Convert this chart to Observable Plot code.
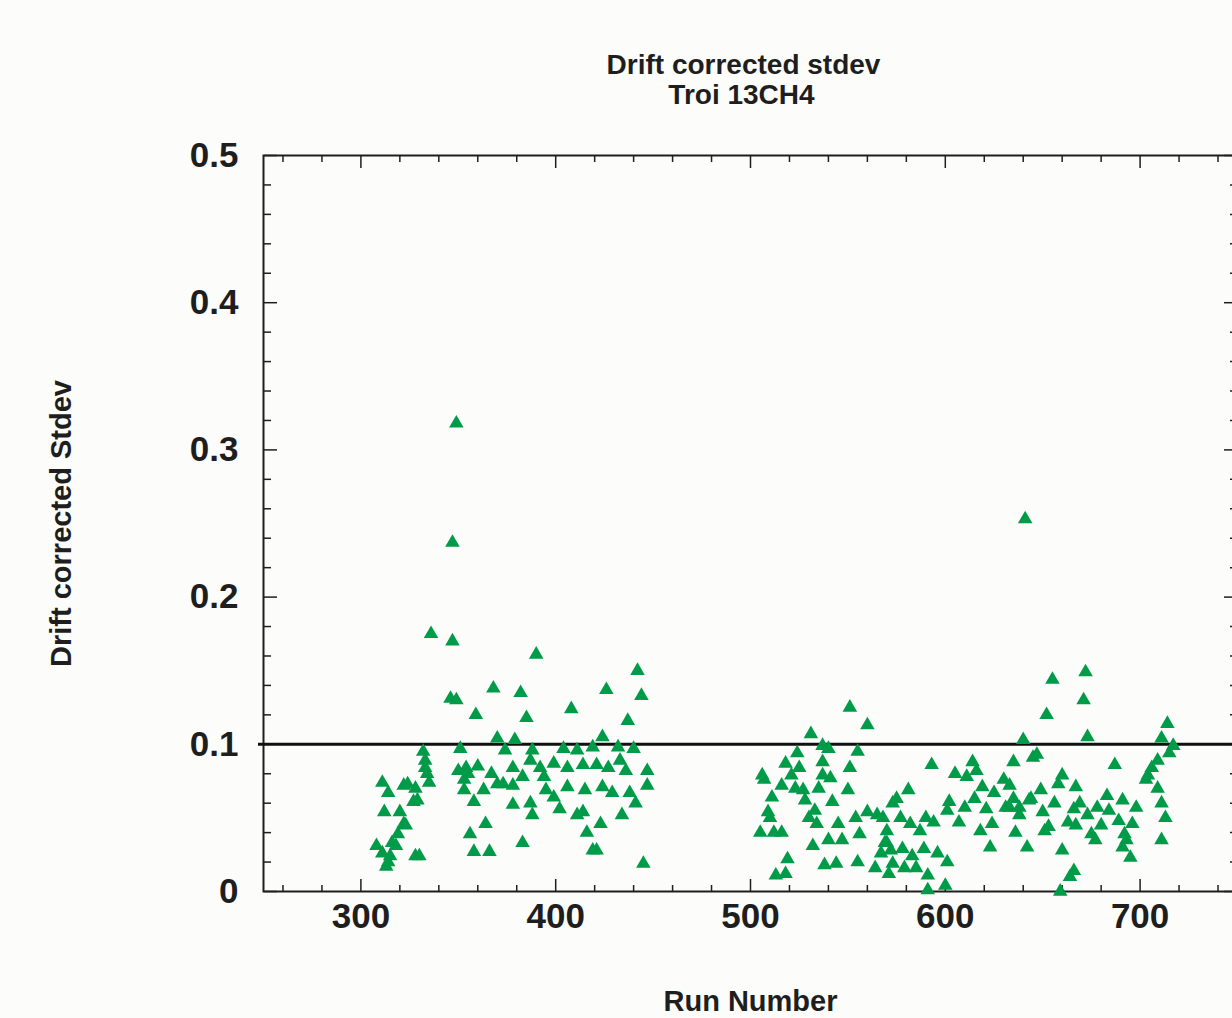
<!DOCTYPE html>
<html><head><meta charset="utf-8">
<script src="https://cdn.jsdelivr.net/npm/d3@7"></script>
<script src="https://cdn.jsdelivr.net/npm/@observablehq/plot@0.6"></script>
<style>
html,body{margin:0;padding:0;background:#fcfcfa;overflow:hidden;width:1232px;height:1018px}
#chart svg{display:block}
</style></head><body><div id="chart"></div>
<script>
const titleLines = ["Drift corrected stdev", "Troi 13CH4"];
const xLabel = "Run Number";
const yLabel = "Drift corrected Stdev";
const xTicks = [300, 400, 500, 600, 700];
const xMinorTicks = [260, 280, 320, 340, 360, 380, 420, 440, 460, 480, 520, 540, 560, 580, 620, 640, 660, 680, 720, 740];
const yTicks = [0, 0.1, 0.2, 0.3, 0.4, 0.5];
const yMinorTicks = [0.02, 0.04, 0.06, 0.08, 0.12, 0.14, 0.16, 0.18, 0.22, 0.24, 0.26, 0.28, 0.32, 0.34, 0.36, 0.38, 0.42, 0.44, 0.46, 0.48];
const threshold = [0.1];

const runs = [
308,311,312,311,313,314,315,314,316,318,319,320,322,323,322,324,327,328,329,328,330,332,333,333,334,335,
336,347,347,346,349,351,350,354,355,360,353,353,358,356,358,366,364,363,367,370,359,368,370,349,
390,382,385,408,426,442,444,437,374,379,388,404,411,419,424,432,440,
378,383,373,378,387,392,399,394,406,414,421,427,433,436,447,
395,399,402,406,415,424,429,438,447,441,434,387,378,388,411,414,423,416,383,419,421,445,
551,560,531,537,540,555,524,518,525,537,551,506,507,521,537,541,516,523,527,535,550,511,528,542,509,533,510,530,534,545,
505,512,516,532,540,547,556,554,560,565,573,519,513,518,538,544,555,564,567,570,
640,593,614,635,645,605,611,616,630,581,575,619,625,602,615,635,643,601,610,621,631,638,568,577,582,590,594,607,618,624,636,570,587,
569,572,578,589,583,596,601,623,642,573,579,585,591,571,591,600,
672,655,671,652,714,673,711,717,715,647,709,687,706,704,660,703,658,667,649,633,709,644,656,669,683,691,633,638,650,666,678,684,698,711,
673,689,696,713,663,653,667,680,651,675,692,677,693,711,660,691,695,666,664,659,641
];
const stdevs = [
0.031,0.026,0.054,0.074,0.017,0.067,0.024,0.020,0.033,0.031,0.039,0.054,0.046,0.045,0.072,0.073,0.061,0.070,0.062,0.024,0.024,0.095,0.089,0.084,0.080,0.074,
0.175,0.170,0.237,0.131,0.130,0.097,0.082,0.084,0.080,0.085,0.076,0.069,0.061,0.039,0.027,0.027,0.046,0.069,0.080,0.073,0.120,0.138,0.104,0.318,
0.161,0.135,0.118,0.124,0.137,0.150,0.133,0.116,0.096,0.103,0.096,0.097,0.096,0.098,0.105,0.098,0.097,
0.084,0.078,0.073,0.072,0.089,0.084,0.087,0.078,0.084,0.086,0.086,0.084,0.089,0.082,0.082,
0.069,0.064,0.056,0.071,0.069,0.071,0.067,0.067,0.072,0.060,0.052,0.060,0.059,0.052,0.052,0.054,0.046,0.040,0.033,0.028,0.028,0.019,
0.125,0.113,0.107,0.099,0.097,0.095,0.094,0.087,0.084,0.088,0.084,0.079,0.076,0.079,0.079,0.077,0.072,0.070,0.069,0.070,0.069,0.064,0.062,0.061,0.054,0.055,0.050,0.050,0.046,0.046,
0.040,0.040,0.040,0.031,0.035,0.035,0.039,0.050,0.054,0.052,0.060,0.022,0.011,0.012,0.018,0.019,0.020,0.016,0.026,0.033,
0.103,0.086,0.088,0.088,0.091,0.080,0.078,0.082,0.076,0.069,0.063,0.071,0.067,0.061,0.063,0.063,0.062,0.055,0.057,0.056,0.057,0.052,0.050,0.050,0.046,0.050,0.047,0.047,0.041,0.046,0.040,0.041,0.041,
0.033,0.028,0.029,0.029,0.024,0.026,0.020,0.030,0.030,0.019,0.016,0.016,0.011,0.012,0.001,0.004,
0.149,0.144,0.130,0.120,0.114,0.105,0.104,0.099,0.094,0.093,0.089,0.086,0.084,0.079,0.079,0.076,0.073,0.071,0.069,0.072,0.070,0.063,0.060,0.060,0.065,0.062,0.057,0.057,0.054,0.056,0.057,0.055,0.057,0.060,
0.052,0.048,0.046,0.050,0.047,0.044,0.045,0.045,0.041,0.039,0.039,0.035,0.035,0.035,0.028,0.030,0.023,0.014,0.010,0.000,0.253
];

const points = runs.map((r, i) => ({run: r, sd: stdevs[i]}));
const ink = "#1e1e1e";
const green = "#009b48";
const font = "'Liberation Sans', Arial, Helvetica, sans-serif";

const chart = Plot.plot({
  width: 1232,
  height: 1018,
  marginLeft: 263,
  marginRight: -5,
  marginTop: 155,
  marginBottom: 127,
  style: {background: "#fcfcfa", overflow: "hidden", fontFamily: font, color: ink},
  x: {domain: [250, 750], label: null},
  y: {domain: [0, 0.5], label: null},
  marks: [
    Plot.frame({stroke: ink, strokeWidth: 2}),
    // inner ticks: bottom
    Plot.axisX({anchor: "top", frameAnchor: "bottom", ticks: xMinorTicks, tickSize: 7, fill: "none", stroke: ink, strokeWidth: 1.5, label: null}),
    Plot.axisX({anchor: "top", frameAnchor: "bottom", ticks: xTicks, tickSize: 13, fill: "none", stroke: ink, strokeWidth: 1.5, label: null}),
    // inner ticks: top
    Plot.axisX({anchor: "bottom", frameAnchor: "top", ticks: xMinorTicks, tickSize: 7, fill: "none", stroke: ink, strokeWidth: 1.5, label: null}),
    Plot.axisX({anchor: "bottom", frameAnchor: "top", ticks: xTicks, tickSize: 13, fill: "none", stroke: ink, strokeWidth: 1.5, label: null}),
    // inner ticks: left
    Plot.axisY({anchor: "right", frameAnchor: "left", ticks: yMinorTicks, tickSize: 7, fill: "none", stroke: ink, strokeWidth: 1.5, label: null}),
    Plot.axisY({anchor: "right", frameAnchor: "left", ticks: yTicks, tickSize: 13, fill: "none", stroke: ink, strokeWidth: 1.5, label: null}),
    // inner ticks: right
    Plot.axisY({anchor: "left", frameAnchor: "right", ticks: yMinorTicks, tickSize: 7, fill: "none", stroke: ink, strokeWidth: 1.5, label: null}),
    Plot.axisY({anchor: "left", frameAnchor: "right", ticks: yTicks, tickSize: 13, fill: "none", stroke: ink, strokeWidth: 1.5, label: null}),
    // tick labels
    Plot.axisX({anchor: "bottom", ticks: xTicks, tickSize: 0, tickPadding: 12, fontSize: 35, fontWeight: "bold", fill: ink, label: null}),
    Plot.axisY({anchor: "left", ticks: yTicks, tickSize: 0, tickPadding: 25, fontSize: 35, fontWeight: "bold", fill: ink, label: null,
      tickFormat: d => d === 0 ? "0" : d.toFixed(1)}),
    // threshold line
    Plot.ruleY(threshold, {stroke: "#111", strokeWidth: 3, insetLeft: -5}),
    // data
    Plot.dot(points, {x: "run", y: "sd", symbol: "triangle", r: 5.4, fill: green}),
    // titles and labels
    Plot.text([titleLines[0]], {frameAnchor: "top", lineAnchor: "middle", dx: -7, dy: -90, fontSize: 28, fontWeight: "bold", fill: ink, letterSpacing: 0.5}),
    Plot.text([titleLines[1]], {frameAnchor: "top", lineAnchor: "middle", dx: -9, dy: -60, fontSize: 28, fontWeight: "bold", fill: ink, letterSpacing: 0.5}),
    Plot.text([xLabel], {frameAnchor: "bottom", lineAnchor: "middle", dy: 110, fontSize: 29, fontWeight: "bold", fill: ink}),
    Plot.text([yLabel], {frameAnchor: "left", textAnchor: "middle", lineAnchor: "middle", dx: -202, rotate: -90, fontSize: 29, fontWeight: "bold", fill: ink})
  ]
});
document.getElementById("chart").appendChild(chart);
</script>
</body></html>
